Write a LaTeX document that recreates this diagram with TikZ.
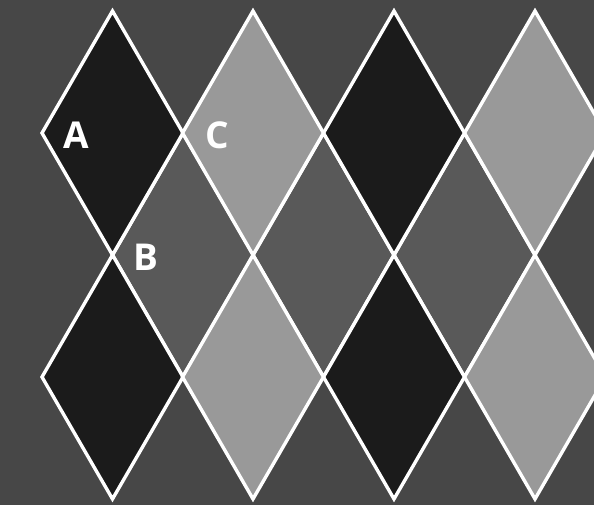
\documentclass[tikz,border=0pt]{standalone}
\usepackage{fontspec}
\setsansfont{Open Sans}
\definecolor{bg}{HTML}{474747}
\definecolor{dk}{HTML}{1B1B1B}
\definecolor{lt}{HTML}{999999}
\definecolor{md}{HTML}{595959}
\tikzset{
  dia/.style={draw=white, line width=3.4pt, line join=miter},
  lbl/.style={text=white, font=\sffamily\bfseries\fontsize{37}{40}\selectfont, inner sep=0pt}
}
\newcommand{\dmd}[3]{%
  \path[dia, fill=#3] (#1-70.5,#2) -- (#1,#2-122) -- (#1+70.5,#2) -- (#1,#2+122) -- cycle;}
\begin{document}
\begin{tikzpicture}[x=1pt,y=-1pt]
\fill[bg] (0,0) rectangle (594,505);
\useasboundingbox (0,0) rectangle (594,505);
\begin{scope}
\clip (0,0) rectangle (594,505);
% middle row
\dmd{183}{255}{md}
\dmd{323.5}{255}{md}
\dmd{464.5}{255}{md}
% top row
\dmd{112.5}{133}{dk}
\dmd{253}{133}{lt}
\dmd{394}{133}{dk}
\dmd{535}{133}{lt}
% bottom row
\dmd{112.5}{377}{dk}
\dmd{253}{377}{lt}
\dmd{394}{377}{dk}
\dmd{535}{377}{lt}
\end{scope}
\node[lbl] (A) at (76,135) {A};
\node[lbl] (C) at (217,135) {C};
\node[lbl] (B) at (146,257) {B};
\end{tikzpicture}
\end{document}
